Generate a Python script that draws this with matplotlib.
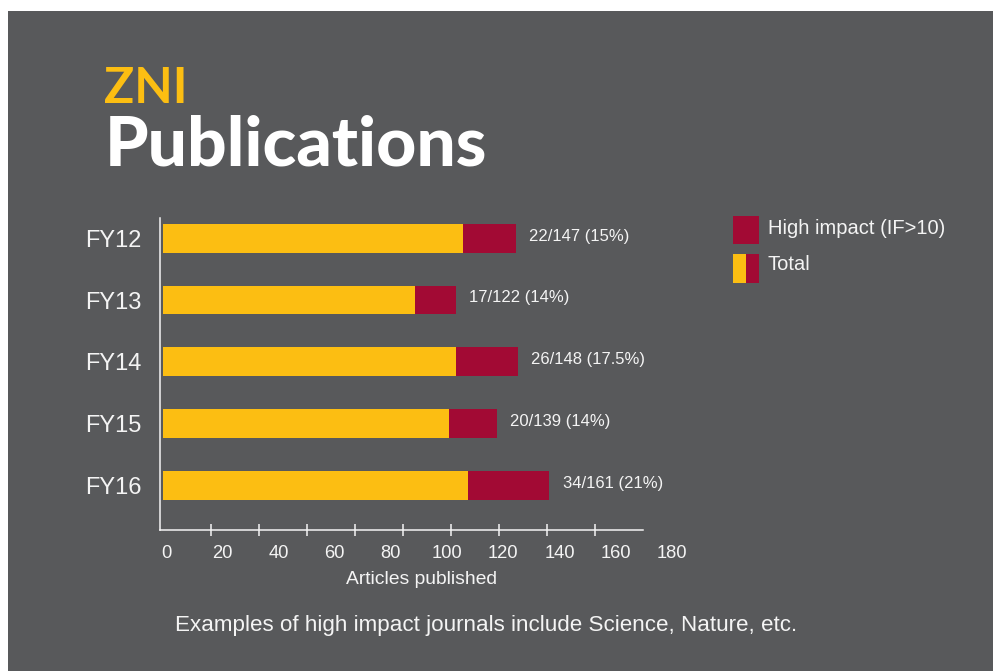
import matplotlib
matplotlib.use("Agg")
import matplotlib.pyplot as plt
from matplotlib.patches import Rectangle

plt.rcParams['font.family'] = ['Liberation Sans', 'DejaVu Sans']

# ---- data ----
years = ["FY12", "FY13", "FY14", "FY15", "FY16"]
total = [147, 122, 148, 139, 161]
high_impact = [22, 17, 26, 20, 34]
pct_labels = ["15%", "14%", "17.5%", "14%", "21%"]
tick_values = [0, 20, 40, 60, 80, 100, 120, 140, 160, 180]

# ---- style ----
W, H = 994, 671
BG = "#58595b"
YELLOW = "#fcbe12"
RED = "#a20a34"
TXT = "#f4f4f4"

fig = plt.figure(figsize=(W / 100, H / 100), dpi=100)
fig.patch.set_facecolor("white")


def fx(x):
    return x / W


def fy(y):
    return 1 - y / H


# grey panel
fig.patches.append(Rectangle((fx(8), 0), fx(993) - fx(8), fy(11), transform=fig.transFigure,
                             facecolor=BG, edgecolor="none", zorder=-10))

# main axes
ax_left, ax_right, ax_top, ax_bottom = 160, 643, 218, 529.6
ax = fig.add_axes([fx(ax_left), fy(ax_bottom), fx(ax_right - ax_left), (ax_bottom - ax_top) / H])
ax.set_facecolor("none")

ypos = list(range(len(years)))
yellow_part = [t - h for t, h in zip(total, high_impact)]
ax.barh(ypos, yellow_part, left=0, height=0.465, color=YELLOW, edgecolor="none")
ax.barh(ypos, high_impact, left=yellow_part, height=0.465, color=RED, edgecolor="none")

for i, (h, t, p) in enumerate(zip(high_impact, total, pct_labels)):
    ax.annotate(f"{h}/{t} ({p})", xy=(t, i), xytext=(9.5, 1.5), textcoords="offset points",
                va="center", ha="left", fontsize=12, color=TXT)

ax.set_xlim(-1.25, 200)
ax.set_ylim(4.717, -0.329)
for s in ["top", "right"]:
    ax.spines[s].set_visible(False)
for s in ["left", "bottom"]:
    ax.spines[s].set_color(TXT)
    ax.spines[s].set_linewidth(1.1)

ax.set_xticks(tick_values[1:])
ax.set_xticklabels([])
ax.tick_params(axis="x", direction="inout", length=9, width=1.1, color=TXT)
ax.set_yticks(ypos)
ax.set_yticklabels(years, fontsize=17, color=TXT)
ax.tick_params(axis="y", length=0, pad=13)

# tick label axis (labels spread as in the original)
ax2 = fig.add_axes([fx(160), fy(ax_bottom), fx(520), 0.001])
ax2.set_facecolor("none")
for s in ax2.spines.values():
    s.set_visible(False)
ax2.set_xlim(-2.13, 182.86)
ax2.set_xticks(tick_values)
ax2.set_xticklabels([str(v) for v in tick_values], fontsize=13.2, color=TXT)
ax2.tick_params(axis="x", length=0, pad=11)
ax2.set_yticks([])

fig.text(fx(422), fy(579), "Articles published", ha="center", va="center", fontsize=13.9, color=TXT)

# legend
fig.patches.append(Rectangle((fx(733), fy(244)), fx(26), 28 / H, transform=fig.transFigure,
                             facecolor=RED, edgecolor="none"))
fig.patches.append(Rectangle((fx(733), fy(283)), fx(13), 29 / H, transform=fig.transFigure,
                             facecolor=YELLOW, edgecolor="none"))
fig.patches.append(Rectangle((fx(746), fy(283)), fx(13), 29 / H, transform=fig.transFigure,
                             facecolor=RED, edgecolor="none"))
fig.text(fx(768), fy(228), "High impact (IF>10)", ha="left", va="center", fontsize=14.5, color=TXT)
fig.text(fx(768), fy(264), "Total", ha="left", va="center", fontsize=14.5, color=TXT)

# title
fig.text(fx(104), fy(102.7), "ZNI", ha="left", va="baseline", fontsize=36, color=YELLOW,
         family=["Lato", "DejaVu Sans"], fontweight="bold")
fig.text(fx(105), fy(165), "Publications", ha="left", va="baseline", fontsize=50, color="white",
         family=["Lato", "DejaVu Sans"], fontweight="black")

# footer
fig.text(fx(175), fy(626), "Examples of high impact journals include Science, Nature, etc.",
         ha="left", va="center", fontsize=16.15, color=TXT)

fig.savefig("out.png", dpi=100, facecolor=fig.get_facecolor())
